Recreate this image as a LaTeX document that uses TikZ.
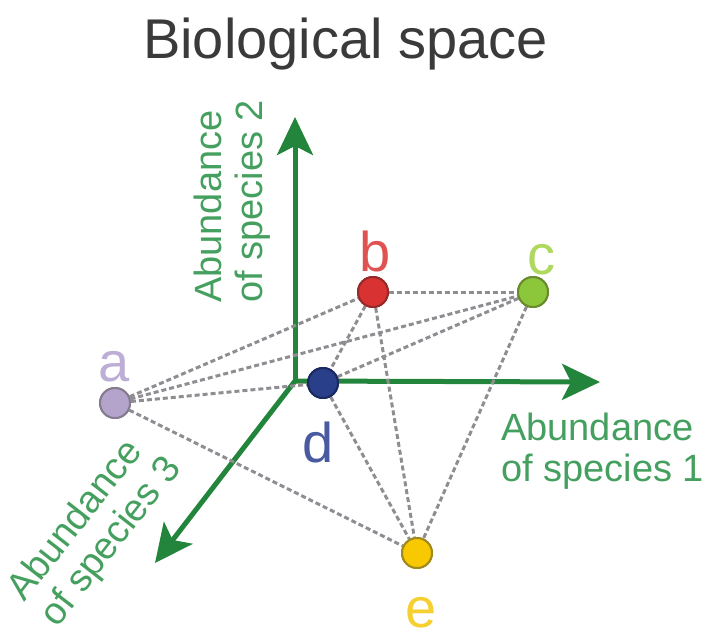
\documentclass[tikz,border=0pt]{standalone}
\usepackage{fontspec}
\setmainfont{Liberation Sans}
\usetikzlibrary{arrows.meta}
\definecolor{axisgreen}{HTML}{23843B}
\definecolor{labelgreen}{HTML}{45A05F}
\definecolor{edgegray}{HTML}{8F8D92}
\definecolor{titlegray}{HTML}{3A3A3A}
\definecolor{afill}{HTML}{B4A4CC}\definecolor{adraw}{HTML}{857C90}\definecolor{atext}{HTML}{BCAED6}
\definecolor{bfill}{HTML}{D93232}\definecolor{bdraw}{HTML}{962A2A}\definecolor{btext}{HTML}{E05252}
\definecolor{cfill}{HTML}{8CC63A}\definecolor{cdraw}{HTML}{6A8A30}\definecolor{ctext}{HTML}{AED85E}
\definecolor{dfill}{HTML}{2A3F8A}\definecolor{ddraw}{HTML}{1A2A60}\definecolor{dtext}{HTML}{4A5AA0}
\definecolor{efill}{HTML}{F8C800}\definecolor{edraw}{HTML}{A08A20}\definecolor{etext}{HTML}{F6CF30}
\tikzset{
  axis/.style={draw=axisgreen, line width=5pt, -{Stealth[length=38pt,width=36pt,inset=9pt]}},
  pt/.style={circle, minimum size=30pt, inner sep=0pt, line width=2pt},
  link/.style={draw=edgegray, line width=3pt, dash pattern=on 5pt off 3pt},
  ptlabel/.style={font=\fontsize{56}{60}\selectfont, inner sep=0pt, anchor=base},
  axlabel/.style={font=\fontsize{38}{41}\selectfont, text=labelgreen, inner sep=0pt, align=left, anchor=north west}
}
\begin{document}
\begin{tikzpicture}[x=1pt,y=-1pt]
\useasboundingbox (0,0) rectangle (708,633);
% title
\node[font=\fontsize{56}{60}\selectfont, text=titlegray, inner sep=0pt, anchor=base] (title) at (345.5,58) {Biological space};
% axes
\coordinate (O) at (295,381);
\coordinate (X) at (600,382);
\coordinate (Y) at (295,117);
\coordinate (Z) at (155,563);
\draw[axis] (O) -- (X);
\draw[axis] (O) -- (Y);
\draw[axis] (O) -- (Z);
% points
\node[pt, fill=afill, draw=adraw] (a) at (115,403) {};
\node[pt, fill=bfill, draw=bdraw] (b) at (373,292) {};
\node[pt, fill=cfill, draw=cdraw] (c) at (533,292) {};
\node[pt, fill=dfill, draw=ddraw] (d) at (323,383) {};
\node[pt, fill=efill, draw=edraw] (e) at (417,553) {};
% links
\foreach \u/\v in {a/b,a/c,a/d,a/e,b/c,b/d,b/e,c/d,c/e,d/e}
  \draw[link] (\u) -- (\v);
% redraw points on top
\node[pt, fill=afill, draw=adraw] at (a) {};
\node[pt, fill=bfill, draw=bdraw] at (b) {};
\node[pt, fill=cfill, draw=cdraw] at (c) {};
\node[pt, fill=dfill, draw=ddraw] at (d) {};
\node[pt, fill=efill, draw=edraw] at (e) {};
% point labels
\node[ptlabel, text=atext] (la) at (114,381) {a};
\node[ptlabel, text=btext] (lb) at (375,271) {b};
\node[ptlabel, text=ctext] (lc) at (541,274) {c};
\node[ptlabel, text=dtext] (ld) at (318,462) {d};
\node[ptlabel, text=etext] (le) at (421,627) {e};
% axis labels
\node[axlabel] (lx) at (501,413) {Abundance\\of species 1};
\node[axlabel, rotate=90] (ly) at (194,303) {Abundance\\of species 2};
\node[axlabel, rotate=52] (lz) at (3,586) {Abundance\\of species 3};
\end{tikzpicture}
\end{document}
